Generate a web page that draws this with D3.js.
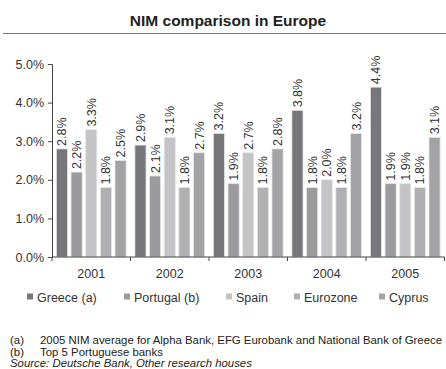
<!DOCTYPE html>
<html>
<head>
<meta charset="utf-8">
<script src="https://cdn.jsdelivr.net/npm/d3@7/dist/d3.min.js"></script>
<style>
  html, body { margin: 0; padding: 0; background: #fff; }
  svg { display: block; font-family: "Liberation Sans", Arial, sans-serif; }
</style>
</head>
<body>
<svg id="chart" width="446" height="369"></svg>
<script>
// Net interest margin by year and market (%)
const years = ["2001", "2002", "2003", "2004", "2005"];
const seriesNames = ["Greece (a)", "Portugal (b)", "Spain", "Eurozone", "Cyprus"];
const greece   = [2.8, 2.9, 3.2, 3.8, 4.4];
const portugal = [2.2, 2.1, 1.9, 1.8, 1.9];
const spain    = [3.3, 3.1, 2.7, 2.0, 1.9];
const eurozone = [1.8, 1.8, 1.8, 1.8, 1.8];
const cyprus   = [2.5, 2.7, 2.8, 3.2, 3.1];
const yTicks = [0, 1, 2, 3, 4, 5];
const seriesColors = ["#77777b", "#9b9b9e", "#c4c4c7", "#b0b0b3", "#a3a3a6"];
const footnotes = [
  ["(a)", "2005 NIM average for Alpha Bank, EFG Eurobank and National Bank of Greece"],
  ["(b)", "Top 5 Portuguese banks"]
];
const sourceLine = "Source:  Deutsche Bank, Other research houses";

const seriesValues = [greece, portugal, spain, eurozone, cyprus];
const svg = d3.select("#chart");

// Title and rule
svg.append("text")
  .attr("x", 228).attr("y", 26)
  .attr("text-anchor", "middle")
  .attr("font-size", 15.5).attr("font-weight", "bold").attr("fill", "#222")
  .text("NIM comparison in Europe");
svg.append("line")
  .attr("x1", 3).attr("x2", 446).attr("y1", 33.5).attr("y2", 33.5)
  .attr("stroke", "#777").attr("stroke-width", 1);

const plot = { left: 52, right: 444.5, top: 64, bottom: 257 };

const x0 = d3.scaleBand().domain(years).range([plot.left, plot.right]).paddingInner(0).paddingOuter(0);
const x1 = d3.scaleBand().domain(seriesNames).range([0, x0.bandwidth()]).paddingInner(0.24).paddingOuter(0.3);
const y = d3.scaleLinear().domain([0, 5]).range([plot.bottom, plot.top]);

// Bars
const groups = svg.append("g").selectAll("g")
  .data(years)
  .join("g")
  .attr("transform", d => `translate(${x0(d)},0)`);

groups.each(function(yr, yi) {
  const g = d3.select(this);
  const rows = seriesNames.map((s, si) => ({ s, si, v: seriesValues[si][yi] }));
  g.selectAll("rect")
    .data(rows)
    .join("rect")
    .attr("x", d => x1(d.s))
    .attr("y", d => y(d.v))
    .attr("width", x1.bandwidth())
    .attr("height", d => y(0) - y(d.v))
    .attr("fill", d => seriesColors[d.si])
    .attr("stroke", "#e6e6e8").attr("stroke-width", 0.8);
  g.selectAll("text")
    .data(rows)
    .join("text")
    .attr("transform", d => `translate(${x1(d.s) + x1.bandwidth() / 2 + 4.5},${y(d.v) - 3}) rotate(-90)`)
    .attr("font-size", 12.5).attr("fill", "#333")
    .text(d => d.v.toFixed(1) + "%");
});

// Y axis
const yAxis = d3.axisLeft(y).tickValues(yTicks).tickSize(4).tickFormat(d => d.toFixed(1) + "%");
const ya = svg.append("g").attr("transform", `translate(${plot.left},0)`).call(yAxis);
ya.select(".domain").attr("stroke", "#444");
ya.selectAll(".tick line").attr("stroke", "#444");
ya.selectAll(".tick text").attr("font-size", 12.5).attr("fill", "#333").attr("font-family", "Liberation Sans, Arial, sans-serif").attr("x", -8);

// X axis: tick marks at category boundaries
const xa = svg.append("g").attr("transform", `translate(0,${plot.bottom})`);
xa.append("line").attr("x1", plot.left).attr("x2", plot.right).attr("y1", 0).attr("y2", 0).attr("stroke", "#444");
const bounds = years.map(d => x0(d)).concat([plot.right]);
xa.selectAll("line.tk").data(bounds).join("line").attr("class", "tk")
  .attr("x1", d => d).attr("x2", d => d).attr("y1", 0).attr("y2", 4).attr("stroke", "#444");
xa.selectAll("text").data(years).join("text")
  .attr("x", d => x0(d) + x0.bandwidth() / 2)
  .attr("y", 21)
  .attr("text-anchor", "middle")
  .attr("font-size", 12.5).attr("fill", "#333")
  .text(d => d);

// Legend
const legendX = [27, 124, 226, 294, 379];
const legend = svg.append("g").attr("transform", "translate(0,297)");
const li = legend.selectAll("g").data(seriesNames).join("g")
  .attr("transform", (d, i) => `translate(${legendX[i]},0)`);
li.append("rect").attr("x", 0).attr("y", -3.5).attr("width", 6).attr("height", 6)
  .attr("fill", (d, i) => seriesColors[i]);
li.append("text").attr("x", 10).attr("y", 4.5)
  .attr("font-size", 12.5).attr("fill", "#333")
  .text(d => d);

// Footnotes
const fn = svg.append("g");
footnotes.forEach((f, i) => {
  fn.append("text").attr("x", 10).attr("y", 344 + i * 11.5)
    .attr("font-size", 11.4).attr("fill", "#222").text(f[0]);
  fn.append("text").attr("x", 40).attr("y", 344 + i * 11.5)
    .attr("font-size", 11.4).attr("fill", "#222").text(f[1]);
});
fn.append("text").attr("x", 10).attr("y", 367)
  .attr("font-size", 11.4).attr("font-style", "italic").attr("fill", "#222")
  .text(sourceLine);
</script>
</body>
</html>
